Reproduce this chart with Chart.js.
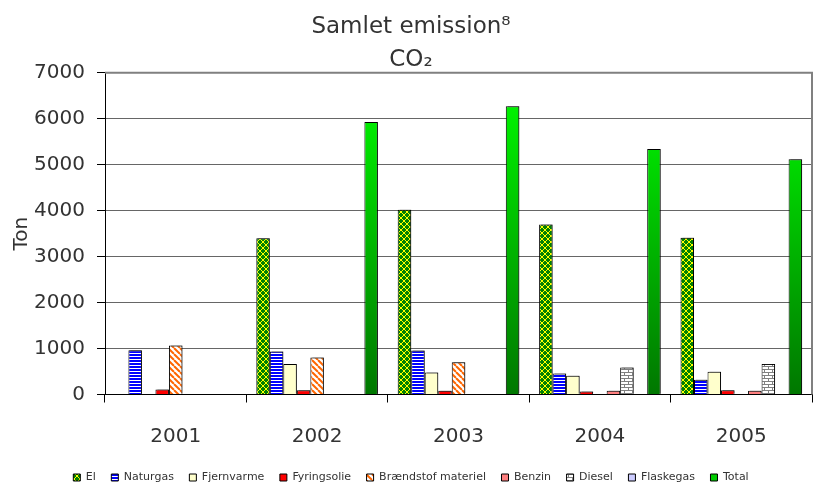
<!DOCTYPE html>
<html>
<head>
<meta charset="utf-8">
<script src="https://cdn.jsdelivr.net/npm/chart.js@4"></script>
<style>
  html, body { margin: 0; padding: 0; background: #fff; }
  #wrap { width: 817px; height: 484px; }
</style>
</head>
<body>
<div id="wrap"><canvas id="chart" width="817" height="484"></canvas></div>
<script>
const years = ['2001', '2002', '2003', '2004', '2005'];

const el          = [0, 3400, 4020, 3700, 3410];
const naturgas    = [960, 935, 955, 455, 320];
const fjernvarme  = [0, 665, 480, 410, 495];
const fyringsolie = [110, 95, 80, 65, 95];
const braendstof  = [1065, 805, 700, 0, 0];
const benzin      = [0, 0, 0, 80, 80];
const diesel      = [0, 0, 0, 585, 665];
const flaskegas   = [10, 0, 0, 0, 0];
const total       = [0, 5930, 6270, 5340, 5115];

const yTicks = [0, 1000, 2000, 3000, 4000, 5000, 6000, 7000];

function makePattern(w, h, draw) {
    const c = document.createElement('canvas');
    c.width = w; c.height = h;
    const g = c.getContext('2d');
    draw(g);
    return document.getElementById('chart').getContext('2d').createPattern(c, 'repeat');
}

// gul med grønne prikker
const elPattern = makePattern(6, 6, g => {
    g.fillStyle = '#ffff00'; g.fillRect(0, 0, 6, 6);
    g.fillStyle = '#008000';
    g.fillRect(1, 0, 2, 4); g.fillRect(0, 1, 4, 2);
    g.fillRect(4, 3, 2, 4); g.fillRect(3, 4, 4, 2);
    g.fillRect(4, 0, 2, 1); g.fillRect(0, 4, 1, 2);
});
// blå vandrette striber
const gasPattern = makePattern(4, 3, g => {
    g.fillStyle = '#ffffff'; g.fillRect(0, 0, 4, 3);
    g.fillStyle = '#0000ff'; g.fillRect(0, 0, 4, 2);
});
// orange skrå striber
const braendPattern = makePattern(6, 6, g => {
    g.fillStyle = '#ffffff'; g.fillRect(0, 0, 6, 6);
    g.strokeStyle = '#ff6600'; g.lineWidth = 2;
    for (let k = -6; k <= 12; k += 6) {
        g.beginPath(); g.moveTo(k, 0); g.lineTo(k + 6, 6); g.stroke();
    }
});
// mursten
const dieselPattern = makePattern(8, 6, g => {
    g.fillStyle = '#ffffff'; g.fillRect(0, 0, 8, 6);
    g.fillStyle = '#808080';
    g.fillRect(0, 0, 8, 1); g.fillRect(0, 3, 8, 1);
    g.fillRect(0, 0, 1, 3); g.fillRect(4, 3, 1, 3);
});

function totalGradient(ctx) {
    const area = ctx.chart.chartArea;
    if (!area) return '#00cc00';
    const g = ctx.chart.ctx.createLinearGradient(0, area.top, 0, area.bottom);
    g.addColorStop(0, '#00ff00');
    g.addColorStop(1, '#007700');
    return g;
}

const series = [
    { label: 'El', data: el, backgroundColor: elPattern },
    { label: 'Naturgas', data: naturgas, backgroundColor: gasPattern },
    { label: 'Fjernvarme', data: fjernvarme, backgroundColor: '#ffffcc' },
    { label: 'Fyringsolie', data: fyringsolie, backgroundColor: '#ff0000' },
    { label: 'Brændstof materiel', data: braendstof, backgroundColor: braendPattern },
    { label: 'Benzin', data: benzin, backgroundColor: '#ff8080' },
    { label: 'Diesel', data: diesel, backgroundColor: dieselPattern },
    { label: 'Flaskegas', data: flaskegas, backgroundColor: '#ccccff' },
    { label: 'Total', data: total, backgroundColor: totalGradient }
];

const frame = {
    id: 'frame',
    afterDraw(chart) {
        const { ctx, chartArea: a } = chart;
        ctx.save();
        ctx.strokeStyle = '#808080';
        ctx.lineWidth = 2;
        ctx.beginPath();
        ctx.moveTo(a.left, a.top); ctx.lineTo(a.right, a.top); ctx.lineTo(a.right, a.bottom);
        ctx.stroke();
        ctx.restore();
    }
};

const shadow = {
    id: 'shadow',
    beforeDatasetsDraw(chart) {
        const ctx = chart.ctx;
        ctx.save();
        ctx.shadowColor = 'rgba(0,0,0,0.35)';
        ctx.shadowOffsetX = 2;
        ctx.shadowOffsetY = -1;
    },
    afterDatasetsDraw(chart) { chart.ctx.restore(); }
};

// skub legenden lidt ned
const legendShift = {
    id: 'legendShift',
    afterLayout(chart) {
        if (chart.legend) { chart.legend.top += 9; chart.legend.bottom += 9; }
    }
};

Chart.defaults.font.family = '"DejaVu Sans", sans-serif';
Chart.defaults.color = '#333';

new Chart(document.getElementById('chart'), {
    type: 'bar',
    data: {
        labels: years,
        datasets: series.map(s => ({
            ...s,
            borderColor: '#000',
            borderWidth: 1,
            categoryPercentage: 0.86,
            barPercentage: 1
        }))
    },
    options: {
        responsive: false,
        animation: false,
        layout: { padding: { left: 10, right: 5, top: 0, bottom: 0 } },
        plugins: {
            title: {
                display: true,
                text: ['Samlet emission⁸', 'CO₂'],
                font: { size: 23, weight: 'normal', lineHeight: 1.45 },
                color: '#333',
                padding: { top: 10, bottom: -4 }
            },
            legend: {
                position: 'bottom',
                labels: {
                    font: { size: 11 },
                    color: '#333',
                    boxWidth: 7,
                    boxHeight: 7,
                    padding: 15.5,
                    generateLabels(chart) {
                        const items = Chart.defaults.plugins.legend.labels.generateLabels(chart);
                        items.forEach(it => {
                            it.strokeStyle = '#000';
                            it.lineWidth = 1;
                            if (it.text === 'Total') it.fillStyle = '#00cc00';
                        });
                        return items;
                    }
                }
            },
            tooltip: { enabled: false }
        },
        scales: {
            x: {
                grid: { drawOnChartArea: false, tickLength: 8, color: '#000', offset: true },
                border: { color: '#000' },
                ticks: { font: { size: 20 }, color: '#333', padding: 22 },
                afterFit(s) { s.height = 53; }
            },
            y: {
                min: 0,
                max: 7000,
                afterBuildTicks(s) { s.ticks = yTicks.map(v => ({ value: v })); },
                grid: { color: '#666', tickLength: 8, tickColor: '#000' },
                border: { color: '#000' },
                ticks: { font: { size: 20 }, color: '#333', padding: 12, callback: v => String(v) },
                title: { display: true, text: 'Ton', font: { size: 20 }, color: '#333', padding: 0 },
                afterFit(s) { s.width = 95; }
            }
        }
    },
    plugins: [frame, shadow, legendShift]
});
</script>
</body>
</html>
